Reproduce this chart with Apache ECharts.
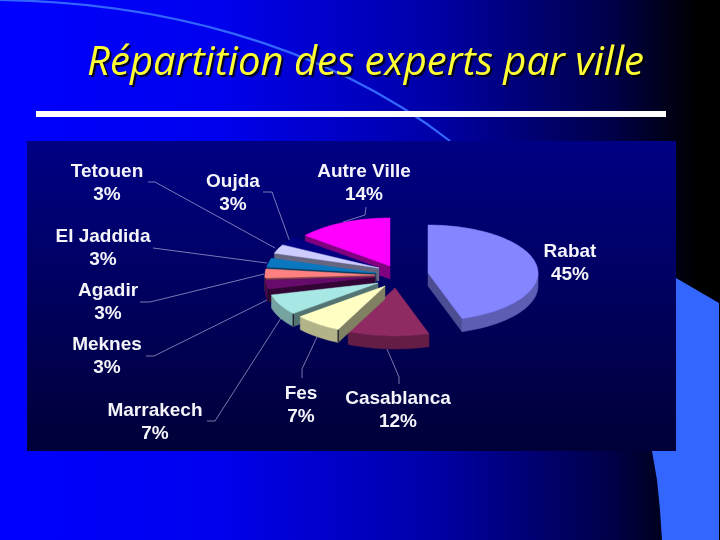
<!DOCTYPE html>
<html><head><meta charset="utf-8">
<style>html,body{margin:0;padding:0;background:#000}#c{width:720px;height:540px}</style>
<script src="https://cdn.jsdelivr.net/npm/echarts@6/dist/echarts.min.js"></script>
</head><body><div id="c"></div>
<script>
const titleText = 'Répartition des experts par ville';
const cities = ['Rabat','Casablanca','Fes','Marrakech','Meknes','Agadir','El Jaddida','Tetouen','Oujda','Autre Ville'];
const shares = [45,12,7,7,3,3,3,3,3,14];
const sliceColors = ['#8585FF','#8F2A62','#FFFFC4','#A8E8E4','#660A6C','#FF8080','#0A78C0','#CCCCFF','#000080','#FF00FF'];
// layout and style constants (not data)
const CX = 375, CY = 272, RX = 110, RY = 48, DEPTH = 13;
const explode = [[53,1],[20,16],[10,14],[3,11],[0,5],[0,3],[1,1],[4,-4],[4,-4],[15,-6]];
const paintRank = [8,6,9,7,5,4,3,2,1,0];
const labelAt = [[570,263],[398,410],[301,405],[155,422],[107,356],[108,302],[103,248],[107,183],[233,193],[364,183]];
const leaders = [
  null,
  [[387,349],[399,377],[399,384]],
  [[317,337],[302,369],[302,378]],
  [[281,318],[215,421],[207,421]],
  [[267,300],[154,356],[146,356]],
  [[264,274],[150,302],[140,302]],
  [[267,263],[153,248]],
  [[275,248],[155,182],[148,182]],
  [[290,242],[272,192],[263,192]],
  [[343,222],[365,215],[366,207]]
];

function shade(hex, k){
  const n = parseInt(hex.slice(1),16);
  const f = s => Math.round(((n>>s)&255)*k);
  return 'rgb('+f(16)+','+f(8)+','+f(0)+')';
}
const total = shares.reduce((a,b)=>a+b,0);
function renderSlice(params, api){
  const i = params.dataIndex;
  let before = 0;
  for(let j=0;j<i;j++) before += shares[j];
  const a0 = before/total*Math.PI*2, a1 = (before+api.value(0))/total*Math.PI*2;
  const ax = CX+explode[i][0], ay = CY+explode[i][1];
  const pt = (a,d)=>[ax+RX*Math.sin(a), ay-RY*Math.cos(a)+(d||0)];
  const arc = (from,to,d)=>{
    const out=[], n=Math.max(2,Math.ceil((to-from)/0.04));
    for(let k=0;k<=n;k++) out.push(pt(from+(to-from)*k/n,d));
    return out;
  };
  const z = paintRank[i]*10;
  const children = [];
  const base = sliceColors[i];
  const poly = (points,fill,zz,stroke)=>children.push({type:'polygon',z2:z+zz,shape:{points},
    style:{fill,stroke:stroke||fill,lineWidth:0.5}});
  const isNavy = i===8;
  if(Math.sin(a0)<0){
    const p=pt(a0);
    poly([[ax,ay],p,[p[0],p[1]+DEPTH],[ax,ay+DEPTH]],shade(base,isNavy?1:0.5),1);
  }
  if(Math.sin(a1)>0.01){
    const p=pt(a1);
    poly([[ax,ay],p,[p[0],p[1]+DEPTH],[ax,ay+DEPTH]],shade(base,0.58),1);
  }
  const lo=Math.max(a0,Math.PI/2), hi=Math.min(a1,Math.PI*1.5);
  if(hi>lo){
    const top=arc(lo,hi,0), bot=arc(lo,hi,DEPTH).reverse();
    poly(top.concat(bot),shade(base,isNavy?1:0.7),2);
    if(a0>Math.PI/2 && a0<Math.PI*1.5 && Math.sin(a0)<0){
      const p=pt(a0);
      children.push({type:'line',z2:z+3,shape:{x1:p[0],y1:p[1],x2:p[0],y2:p[1]+DEPTH},style:{stroke:'#101020',lineWidth:1.2}});
    }
  }
  poly([[ax,ay]].concat(arc(a0,a1,0)),base,4);
  if(leaders[i]) children.push({type:'polyline',z2:1,shape:{points:leaders[i]},
    style:{fill:'none',stroke:'rgba(185,185,225,0.72)',lineWidth:0.9}});
  children.push({type:'text',z2:200,style:{
    text:cities[i]+'\n'+api.value(0)+'%',x:labelAt[i][0],y:labelAt[i][1],
    fill:'#F4F4FA',align:'center',verticalAlign:'middle',lineHeight:23,
    fontFamily:'Liberation Sans',fontWeight:'bold',fontSize:19}});
  return {type:'group',children};
}
const chart = echarts.init(document.getElementById('c'),null,{renderer:'canvas'});
chart.setOption({
  animation:false,
  backgroundColor:{type:'linear',x:0,y:0,x2:1,y2:0,colorStops:[
    {offset:0,color:'#0000FF'},{offset:0.3,color:'#0000EE'},{offset:0.6,color:'#0000A8'},
    {offset:0.85,color:'#000048'},{offset:0.97,color:'#000000'},{offset:1,color:'#000000'}]},
  title:{text:titleText,left:360.5,top:39,textAlign:'center',
    textStyle:{fontFamily:'Open Sans',fontStyle:'italic',fontWeight:'normal',fontSize:40,color:'#FFFF33',
      textShadowColor:'rgba(0,0,0,0.85)',textShadowBlur:1,textShadowOffsetX:2,textShadowOffsetY:2}},
  graphic:{elements:[
    {type:'bezierCurve',z:0,shape:{x1:0,y1:0,cpx1:150,cpy1:2,cpx2:320,cpy2:40,x2:450,y2:141},
      style:{stroke:'#3366FF',lineWidth:2.2,fill:'none'}},
    {type:'polygon',z:0,shape:{points:[[676,278],[719,303],[719,540],[662,540],[660,510],[657,480],[652,451],[676,451]]},
      style:{fill:'#3366FF'}},
    {type:'rect',z:0,shape:{x:27,y:141,width:649,height:310},
      style:{fill:{type:'linear',x:0,y:0,x2:0,y2:1,colorStops:[{offset:0,color:'#000084'},{offset:1,color:'#000038'}]}}},
    {type:'rect',z:1,shape:{x:36,y:111,width:630,height:6},style:{fill:'#FFFFFF'}}
  ]},
  series:[{type:'custom',coordinateSystem:'none',renderItem:renderSlice,z:5,clip:false,
    data:shares.map((v,i)=>({name:cities[i],value:[v]}))}]
});
</script></body></html>
